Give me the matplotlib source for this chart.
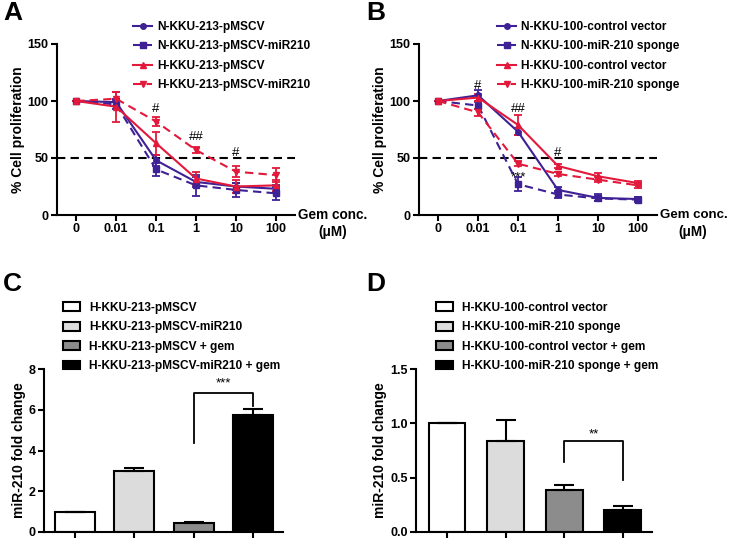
import matplotlib
matplotlib.use("Agg")
import matplotlib.pyplot as plt
from matplotlib.lines import Line2D
import numpy as np

plt.rcParams['font.family'] = ['Liberation Sans', 'DejaVu Sans']
plt.rcParams['font.weight'] = 'bold'

# ---------------- data ----------------
conc_labels = ["0", "0.01", "0.1", "1", "10", "100"]

a_names = ["N-KKU-213-pMSCV", "N-KKU-213-pMSCV-miR210", "H-KKU-213-pMSCV", "H-KKU-213-pMSCV-miR210"]
a_n_ctrl = [100, 99, 48, 29, 25, 23]
a_n_ctrl_err = [0, 3, 5, 4, 3, 3]
a_n_mir = [100, 97, 40, 26, 22, 19]
a_n_mir_err = [0, 4, 6, 9, 6, 6]
a_h_ctrl = [100, 95, 63, 32, 25, 26]
a_h_ctrl_err = [0, 13, 10, 6, 6, 5]
a_h_mir = [100, 102, 82, 57, 38, 35]
a_h_mir_err = [0, 6, 4, 3, 5, 6]
a_annot = [(2, 93, "#"), (3, 68, "##"), (4, 54, "#")]

b_names = ["N-KKU-100-control vector", "N-KKU-100-miR-210 sponge", "H-KKU-100-control vector", "H-KKU-100-miR-210 sponge"]
b_n_ctrl = [100, 105, 73, 22, 15, 14]
b_n_ctrl_err = [0, 5, 3, 3, 3, 2]
b_n_sp = [100, 96, 27, 18, 14.5, 13.5]
b_n_sp_err = [0, 3, 6, 3, 2, 2]
b_h_ctrl = [100, 103, 79, 43, 34, 28]
b_h_ctrl_err = [0, 3, 9, 2, 3, 2]
b_h_sp = [100, 90, 45, 36, 31, 26]
b_h_sp_err = [0, 3, 2, 2, 2, 2]
b_annot = [(1, 113, "#"), (2, 93, "##"), (3, 54, "#"), (2, 33, "***")]

c_names = ["H-KKU-213-pMSCV", "H-KKU-213-pMSCV-miR210", "H-KKU-213-pMSCV + gem", "H-KKU-213-pMSCV-miR210 + gem"]
c_vals = [1.0, 2.97, 0.45, 5.75]
c_errs = [0.0, 0.15, 0.03, 0.3]

d_names = ["H-KKU-100-control vector", "H-KKU-100-miR-210 sponge", "H-KKU-100-control vector + gem", "H-KKU-100-miR-210 sponge + gem"]
d_vals = [1.0, 0.84, 0.39, 0.20]
d_errs = [0.0, 0.19, 0.04, 0.04]

bar_colors = ["white", "#dcdcdc", "#8c8c8c", "black"]
PURPLE = "#3f2196"
RED = "#e3193c"

fig = plt.figure(figsize=(7.3, 5.4), dpi=100)

def style_axes(ax):
    for s in ["top", "right"]:
        ax.spines[s].set_visible(False)
    for s in ["left", "bottom"]:
        ax.spines[s].set_linewidth(1.5)
    ax.tick_params(width=1.5, length=4.5, pad=1.5, labelsize=9, direction="out")
    for lab in ax.get_xticklabels() + ax.get_yticklabels():
        lab.set_fontweight("bold")

def line_panel(rect, series, names, annots):
    ax = fig.add_axes(rect)
    x = np.arange(len(conc_labels))
    styles = [(PURPLE, "-", "o"), (PURPLE, "--", "s"), (RED, "-", "^"), (RED, "--", "v")]
    handles = []
    for (vals, errs), (c, ls, m), nm in zip(series, styles, names):
        lstyle = (0, (4, 2.5)) if ls == "--" else "-"
        ax.errorbar(x, vals, yerr=errs, color=c, ls=lstyle, marker=m, ms=4, lw=1.5,
                    capsize=3, elinewidth=1.3, capthick=1.3)
        handles.append(Line2D([], [], color=c, ls=lstyle, marker=m, ms=4, lw=1.5))
    ax.axhline(50, color="black", ls=(0, (4, 2.5)), lw=1.5)
    for xi, yi, t in annots:
        ax.text(xi, yi, t, ha="center", va="center", fontsize=9.5, fontweight="normal")
    ax.set_xlim(-0.48, 5.48)
    ax.set_ylim(0, 150)
    ax.set_yticks([0, 50, 100, 150])
    ax.set_xticks(x)
    ax.set_xticklabels(conc_labels)
    ax.set_ylabel("% Cell proliferation", fontsize=10, fontweight="bold", labelpad=2)
    style_axes(ax)
    return ax, handles

LEG_KW = dict(frameon=False, fontsize=8.6, labelspacing=0.62, borderaxespad=0, borderpad=0)

# Panel A
axA, hA = line_panel([57/730, 1 - 215/540, 238/730, 171/540],
                     [(a_n_ctrl, a_n_ctrl_err), (a_n_mir, a_n_mir_err),
                      (a_h_ctrl, a_h_ctrl_err), (a_h_mir, a_h_mir_err)],
                     a_names, a_annot)
fig.legend(handles=hA, labels=a_names, loc="upper left", bbox_to_anchor=(133/730, 1 - 21/540),
           handlelength=1.6, handletextpad=0.45, **LEG_KW)
fig.text(298/730, 1 - 215/540, "Gem conc.", fontsize=9.8, fontweight="bold", va="center", ha="left")
fig.text(333/730, 1 - 232/540, "(\u03bcM)", fontsize=9.8, fontweight="bold", va="center", ha="center")
fig.text(3/730, 1 - 13/540, "A", fontsize=19, fontweight="bold", va="center", ha="left")

# Panel B
axB, hB = line_panel([419/730, 1 - 215/540, 238/730, 171/540],
                     [(b_n_ctrl, b_n_ctrl_err), (b_n_sp, b_n_sp_err),
                      (b_h_ctrl, b_h_ctrl_err), (b_h_sp, b_h_sp_err)],
                     b_names, b_annot)
fig.legend(handles=hB, labels=b_names, loc="upper left", bbox_to_anchor=(497/730, 1 - 21/540),
           handlelength=1.6, handletextpad=0.45, **LEG_KW)
fig.text(660/730, 1 - 215/540, "Gem conc.", fontsize=9.5, fontweight="bold", va="center", ha="left")
fig.text(693/730, 1 - 232/540, "(\u03bcM)", fontsize=9.8, fontweight="bold", va="center", ha="center")
fig.text(366/730, 1 - 13/540, "B", fontsize=19, fontweight="bold", va="center", ha="left")

def bar_panel(rect, vals, errs, names, ylim, yticks, yfmt, xlim, width, bracket, star, legend_anchor, letter_pos, letter):
    ax = fig.add_axes(rect)
    x = np.arange(len(vals))
    bars = ax.bar(x, vals, width=width, color=bar_colors, edgecolor="black", linewidth=1.5, zorder=2)
    ax.errorbar(x, vals, yerr=[np.zeros(len(errs)), errs], fmt="none", ecolor="black",
                elinewidth=1.5, capsize=7, capthick=1.5, zorder=3)
    (x1, y1), (x2, y2), ytop = bracket
    ax.plot([x1, x1, x2, x2], [y1, ytop, ytop, y2], color="black", lw=1.3)
    ax.text((x1 + x2) / 2, star[0], star[1], ha="center", va="center", fontsize=9.5, fontweight="normal")
    ax.set_xlim(*xlim)
    ax.set_ylim(*ylim)
    ax.set_yticks(yticks)
    ax.set_yticklabels([yfmt.format(t) for t in yticks])
    ax.set_xticks(x)
    ax.set_xticklabels([])
    ax.set_ylabel("miR-210 fold change", fontsize=10, fontweight="bold", labelpad=2)
    style_axes(ax)
    fig.legend(handles=list(bars), labels=names, loc="upper left", bbox_to_anchor=legend_anchor,
               handlelength=1.45, handleheight=0.75, handletextpad=0.75, **LEG_KW)
    fig.text(letter_pos[0], letter_pos[1], letter, fontsize=19, fontweight="bold", va="center", ha="left")
    return ax

bar_panel([44/730, 1 - 532/540, 239/730, 163/540], c_vals, c_errs, c_names,
          (0, 8), [0, 2, 4, 6, 8], "{:g}", (-0.52, 3.5), 0.67,
          ((2, 4.35), (3, 6.2), 6.83), (7.3, "***"),
          (63/730, 1 - 302/540), (3/730, 1 - 284/540), "C")

bar_panel([416/730, 1 - 532/540, 236/730, 163/540], d_vals, d_errs, d_names,
          (0, 1.5), [0.0, 0.5, 1.0, 1.5], "{:.1f}", (-0.53, 3.5), 0.63,
          ((2, 0.645), (3, 0.48), 0.836), (0.9, "**"),
          (436/730, 1 - 302/540), (366/730, 1 - 284/540), "D")

fig.savefig("out.png", dpi=100)
